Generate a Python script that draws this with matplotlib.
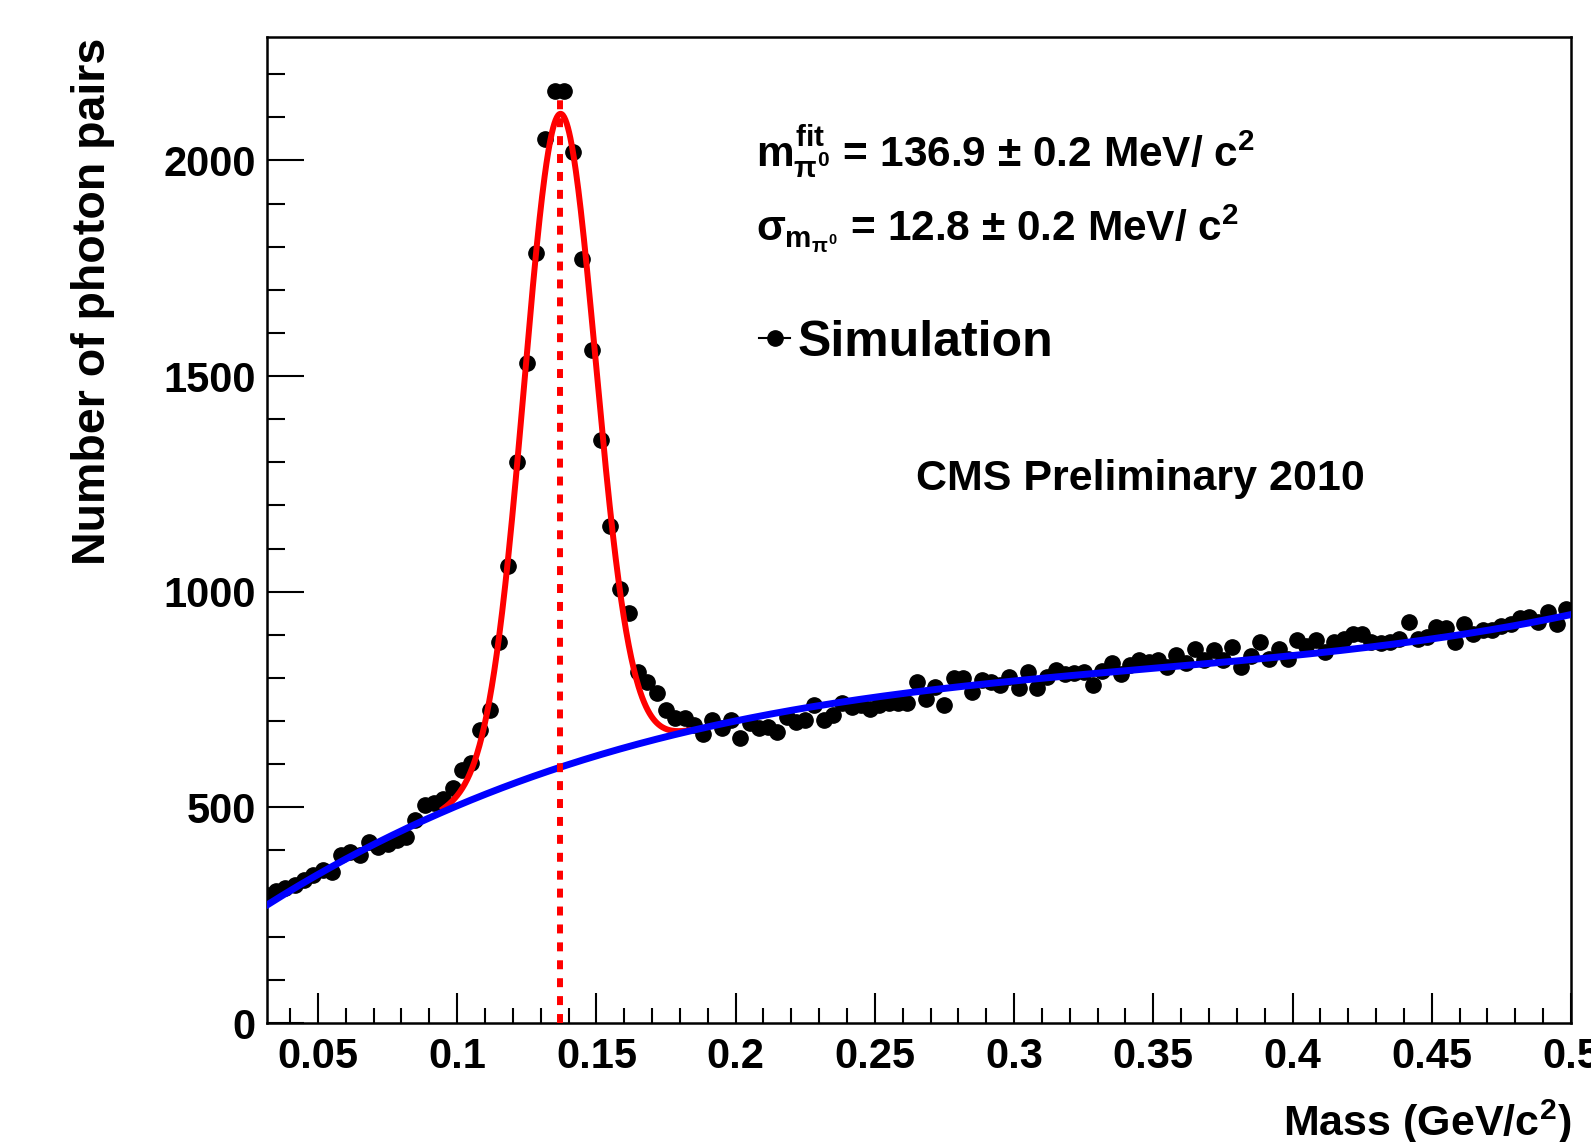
import numpy as np
import matplotlib
matplotlib.use('Agg')
import matplotlib.pyplot as plt
from matplotlib.lines import Line2D
from matplotlib.ticker import MultipleLocator

plt.rcParams['font.family'] = ['Liberation Sans', 'DejaVu Sans']
plt.rcParams['font.weight'] = 'bold'
plt.rcParams['mathtext.fontset'] = 'custom'
plt.rcParams['mathtext.rm'] = 'Liberation Sans:bold'
plt.rcParams['mathtext.it'] = 'Liberation Sans:bold'
plt.rcParams['mathtext.bf'] = 'Liberation Sans:bold'
plt.rcParams['mathtext.sf'] = 'Liberation Sans:bold'

# ---------------- data ----------------
bin_lo, bin_hi, n_bins = 0.03, 0.5, 141
counts = [297, 305, 312, 320, 331, 343, 355, 351, 389, 397, 389, 420, 409, 416, 424, 432, 470, 505, 509,
          520, 544, 586, 602, 679, 725, 884, 1060, 1300, 1530, 1785, 2049, 2160, 2160, 2019, 1772, 1560,
          1351, 1153, 1007,
          951, 814, 791, 764, 725, 706, 706, 691, 671, 702, 683, 702, 660, 695, 683, 687, 675, 710, 698,
          702, 737, 702, 714, 741, 733, 737, 729, 737, 741, 741, 741, 791, 752, 779, 737, 799,
          799, 768, 795, 790, 783, 803, 776, 814, 776, 803, 818, 810, 812, 814, 783, 815, 834, 810, 830,
          841, 838, 841, 826, 853, 834, 868, 841, 864, 841, 872, 826, 850, 884, 845, 868,
          845, 888, 875, 888, 860, 884, 890, 903, 903, 884, 880, 884, 891, 930, 891, 895, 918, 915, 884,
          926, 903, 911, 911, 920, 926, 938, 942, 930, 953, 926, 961]

# background curve
bg_x = [0.031, 0.0542, 0.084, 0.097, 0.124, 0.137, 0.1585, 0.2185, 0.277, 0.3955, 0.5]
bg_y = [262, 347, 470, 517, 570, 597, 628, 702, 772, 866, 941]

fit_mean, fit_sigma, fit_amp = 0.1369, 0.0128, 1515.0
fit_lo, fit_hi = 0.095, 0.183
peak_line_top = 2140

x_ticks = [0.05, 0.1, 0.15, 0.2, 0.25, 0.3, 0.35, 0.4, 0.45, 0.5]
x_ticklabels = ['0.05', '0.1', '0.15', '0.2', '0.25', '0.3', '0.35', '0.4', '0.45', '0.5']
y_ticks = [0, 500, 1000, 1500, 2000]
x_min, x_max = 0.0317, 0.5
y_min, y_max = 0, 2285

# ---------------- derived ----------------
edges = np.linspace(bin_lo, bin_hi, n_bins + 1)
centers = 0.5 * (edges[:-1] + edges[1:])
counts = np.array(counts, dtype=float)
bg_coef = np.polyfit(bg_x, bg_y, 3)
bg = np.poly1d(bg_coef)

fig = plt.figure(figsize=(15.91, 11.42), dpi=100)
ax = fig.add_axes([0.1678, 0.1042, 0.8196, 0.863])

ax.plot(centers, counts, 'o', color='black', ms=11, zorder=2)

xf = np.linspace(fit_lo, fit_hi, 400)
ax.plot(xf, bg(xf) + fit_amp * np.exp(-0.5 * ((xf - fit_mean) / fit_sigma) ** 2),
        color='#ff0000', lw=4.3, zorder=3)
xs = np.linspace(x_min, x_max, 500)
ax.plot(xs, bg(xs), color='#0000ff', lw=5, zorder=4)
ax.plot([fit_mean, fit_mean], [y_min, peak_line_top], color='#ff0000', lw=4.3,
        linestyle=(0, (1.5, 1.5)), dash_capstyle='butt', zorder=5)

ax.set_xlim(x_min, x_max)
ax.set_ylim(y_min, y_max)
ax.set_xticks(x_ticks)
ax.set_xticklabels(x_ticklabels)
ax.set_yticks(y_ticks)
ax.set_yticklabels([str(v) for v in y_ticks])
ax.xaxis.set_minor_locator(MultipleLocator(0.01))
ax.yaxis.set_minor_locator(MultipleLocator(100))
ax.tick_params(which='both', direction='in', top=False, right=False, color='black')
ax.tick_params(axis='x', which='major', length=21.6, width=1.5, labelsize=30, pad=10)
ax.tick_params(axis='x', which='minor', length=10.8, width=1.5)
ax.tick_params(axis='y', which='major', length=26.4, width=1.5, labelsize=30, pad=8)
ax.tick_params(axis='y', which='minor', length=13, width=1.5)
for lab in ax.get_xticklabels() + ax.get_yticklabels():
    lab.set_fontweight('bold')
for sp in ax.spines.values():
    sp.set_linewidth(1.8)

fig.text(0.0585, 0.967, 'Number of photon pairs', rotation=90, ha='center', va='top',
         fontsize=33.5, fontweight='bold')
fig.text(0.9874, 0.017, 'Mass (GeV/c$^{2}$)', ha='right', va='center', fontsize=31, fontweight='bold')

fig.text(0.4752, 0.8534, r'$m^{fit}_{\pi^{0}}$ = 136.9 ± 0.2 MeV/ c$^{2}$', fontsize=30.5,
         fontweight='bold', va='baseline')
fig.text(0.4752, 0.7885, r'$\sigma_{m_{\pi^{0}}}$ = 12.8 ± 0.2 MeV/ c$^{2}$', fontsize=30.5,
         fontweight='bold', va='baseline')
fig.text(0.5757, 0.571, 'CMS Preliminary 2010', fontsize=31, fontweight='bold', va='baseline')

handle = Line2D([], [], color='black', marker='o', ms=11, lw=1.5)
ax.legend([handle], ['Simulation'], loc='center left', bbox_to_anchor=(759 / 1591, 1 - 343 / 1142),
          bbox_transform=fig.transFigure, frameon=False, fontsize=36, handlelength=0.62,
          handletextpad=0.15, borderpad=0, borderaxespad=0)

fig.savefig('out.png', dpi=100)
